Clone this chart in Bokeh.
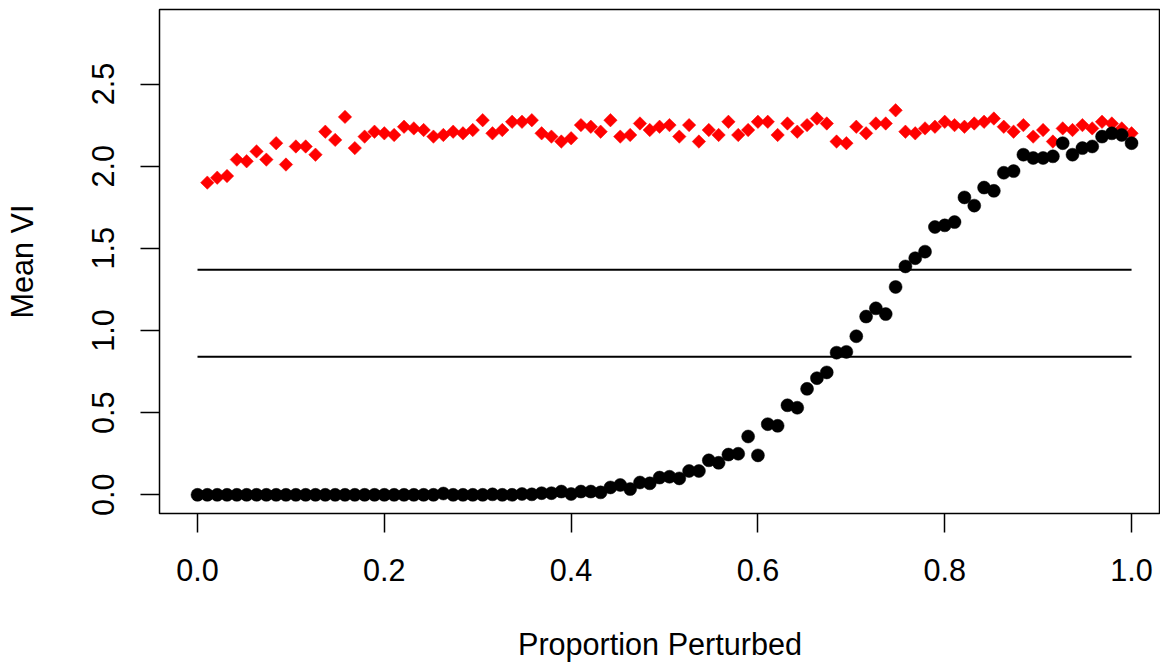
from math import pi
from bokeh.plotting import figure
from bokeh.models import Range1d, FixedTicker, NumeralTickFormatter
from bokeh.embed import file_html
from bokeh.resources import INLINE

# ---- data ----
proportion = [0.0, 0.0105, 0.0211, 0.0316, 0.0421, 0.0526, 0.0632, 0.0737, 0.0842, 0.0947,
              0.1053, 0.1158, 0.1263, 0.1368, 0.1474, 0.1579, 0.1684, 0.1789, 0.1895, 0.2,
              0.2105, 0.2211, 0.2316, 0.2421, 0.2526, 0.2632, 0.2737, 0.2842, 0.2947, 0.3053,
              0.3158, 0.3263, 0.3368, 0.3474, 0.3579, 0.3684, 0.3789, 0.3895, 0.4, 0.4105,
              0.4211, 0.4316, 0.4421, 0.4526, 0.4632, 0.4737, 0.4842, 0.4947, 0.5053, 0.5158,
              0.5263, 0.5368, 0.5474, 0.5579, 0.5684, 0.5789, 0.5895, 0.6, 0.6105, 0.6211,
              0.6316, 0.6421, 0.6526, 0.6632, 0.6737, 0.6842, 0.6947, 0.7053, 0.7158, 0.7263,
              0.7368, 0.7474, 0.7579, 0.7684, 0.7789, 0.7895, 0.8, 0.8105, 0.8211, 0.8316,
              0.8421, 0.8526, 0.8632, 0.8737, 0.8842, 0.8947, 0.9053, 0.9158, 0.9263, 0.9368,
              0.9474, 0.9579, 0.9684, 0.9789, 0.9895, 1.0]

mean_vi_black = [0.0, 0.0, 0.0, 0.0, 0.0, 0.0, 0.0, 0.0, 0.0, 0.0,
                 0.0, 0.0, 0.0, 0.0, 0.0, 0.0, 0.0, 0.0, 0.0, 0.0,
                 0.0, 0.0, 0.0, 0.0, 0.0, 0.008, 0.0, 0.0, 0.0, 0.0,
                 0.003, 0.0, 0.0, 0.005, 0.003, 0.01, 0.01, 0.02, 0.005, 0.02,
                 0.02, 0.015, 0.045, 0.06, 0.035, 0.075, 0.07, 0.105, 0.11, 0.10,
                 0.145, 0.145, 0.21, 0.195, 0.245, 0.25, 0.355, 0.24, 0.43, 0.42,
                 0.545, 0.53, 0.645, 0.71, 0.745, 0.865, 0.87, 0.965, 1.085, 1.135,
                 1.10, 1.265, 1.39, 1.44, 1.48, 1.63, 1.64, 1.66, 1.81, 1.76,
                 1.87, 1.85, 1.96, 1.97, 2.07, 2.05, 2.05, 2.06, 2.14, 2.07,
                 2.11, 2.12, 2.18, 2.20, 2.19, 2.14]

# red series starts at the second proportion
mean_vi_red = [1.90, 1.93, 1.94, 2.04, 2.03, 2.09, 2.04, 2.14, 2.01, 2.12,
               2.12, 2.07, 2.21, 2.16, 2.30, 2.11, 2.18, 2.21, 2.20, 2.19,
               2.24, 2.23, 2.22, 2.18, 2.19, 2.21, 2.20, 2.22, 2.28, 2.20,
               2.22, 2.27, 2.27, 2.28, 2.20, 2.18, 2.15, 2.17, 2.25, 2.24,
               2.21, 2.28, 2.18, 2.19, 2.26, 2.22, 2.24, 2.25, 2.18, 2.25,
               2.15, 2.22, 2.19, 2.27, 2.19, 2.22, 2.27, 2.27, 2.19, 2.26,
               2.21, 2.25, 2.29, 2.26, 2.15, 2.14, 2.24, 2.20, 2.26, 2.26,
               2.34, 2.21, 2.20, 2.23, 2.24, 2.27, 2.25, 2.24, 2.26, 2.27,
               2.29, 2.24, 2.21, 2.25, 2.18, 2.22, 2.15, 2.23, 2.22, 2.25,
               2.23, 2.27, 2.26, 2.23, 2.20]

reference_lines = [1.37, 0.84]

x_ticks = [0.0, 0.2, 0.4, 0.6, 0.8, 1.0]
y_ticks = [0.0, 0.5, 1.0, 1.5, 2.0, 2.5]
x_label = "Proportion Perturbed"
y_label = "Mean VI"

FONT = "Liberation Sans"
FS = "30.6px"

p = figure(width=1160, height=663, output_backend="svg", toolbar_location=None,
           x_range=Range1d(-0.0407, 1.031), y_range=Range1d(-0.1136, 2.9536),
           min_border_left=159, min_border_right=0, min_border_top=9,
           min_border_bottom=143)
p.background_fill_color = "white"
p.border_fill_color = "white"
p.outline_line_color = "black"
p.outline_line_width = 1.5
p.outline_line_alpha = 1.0
p.grid.visible = False

for ax, ticks in ((p.xaxis[0], x_ticks), (p.yaxis[0], y_ticks)):
    ax.ticker = FixedTicker(ticks=ticks)
    ax.formatter = NumeralTickFormatter(format="0.0")
    ax.axis_line_color = None
    ax.major_tick_in = 0
    ax.major_tick_out = 19
    ax.major_tick_line_width = 1.5
    ax.major_tick_line_color = "black"
    ax.minor_tick_line_color = None
    ax.major_label_text_font = FONT
    ax.major_label_text_font_size = FS
    ax.major_label_text_color = "black"
    ax.axis_label_text_font = FONT
    ax.axis_label_text_font_size = FS
    ax.axis_label_text_font_style = "normal"
    ax.axis_label_text_color = "black"

p.xaxis.axis_label = x_label
p.xaxis.major_label_standoff = 26
p.xaxis.axis_label_standoff = 43
p.yaxis.axis_label = y_label
p.yaxis.major_label_orientation = "vertical"
p.yaxis.major_label_standoff = 26
p.yaxis.axis_label_standoff = 51

n = len(reference_lines)
p.segment(x0=[proportion[0]] * n, x1=[proportion[-1]] * n,
          y0=reference_lines, y1=reference_lines,
          line_color="black", line_width=2)

p.scatter(proportion[1:], mean_vi_red, marker="square", angle=pi / 4,
          size=9.5, fill_color="red", line_color="red", line_width=0.5)
p.scatter(proportion, mean_vi_black, marker="circle", size=13,
          fill_color="black", line_color="black", line_width=0.5)

open("out.html", "w").write(file_html(p, INLINE))
